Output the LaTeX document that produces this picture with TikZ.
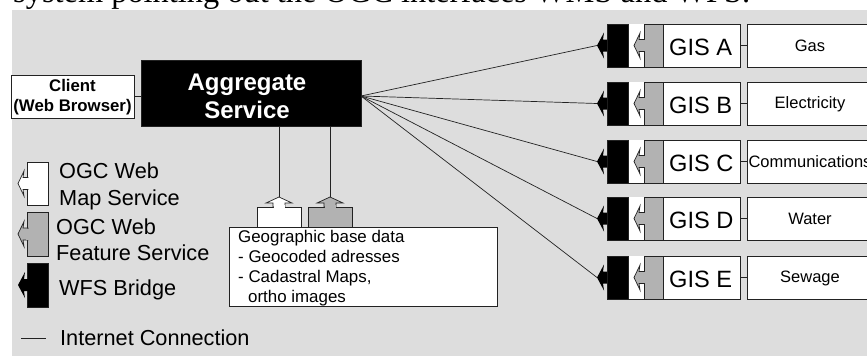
\documentclass[tikz,border=0pt]{standalone}
\usepackage{fontspec}
\setmainfont{Liberation Sans}
\newfontfamily\serifttl{Liberation Serif}
\definecolor{bggray}{HTML}{DDDDDD}
\definecolor{wfsgray}{HTML}{B2B2B2}
\definecolor{edge}{HTML}{222222}
\newcommand{\fs}[1]{\fontsize{#1}{#1}\selectfont}
\tikzset{
  x=1pt,y=-1pt,
  box/.style={draw=edge,line width=0.8pt,fill=white,inner sep=0,outer sep=0,anchor=north west},
  link/.style={draw=edge,line width=0.7pt},
  lbl/.style={inner sep=0,anchor=base west,text=black},
  service/.style={draw=edge,line width=0.7pt,fill=#1},
  servicearrow/.pic={
    \path[pic actions] (0,0) -- (6,-12.5) -- (5,-6) -- (10,-6) -- (10,6) -- (5,6) -- (6,12.5) -- cycle;
  },
  bridgearrow/.pic={
    \path[pic actions] (0,0) -- (7,-13) -- (6,-6) -- (10,-6) -- (10,6) -- (6,6) -- (7,13) -- cycle;
  },
  uparrow/.pic={
    \path[pic actions] (0,0) -- (13,6) -- (6,6) -- (6,10) -- (-6,10) -- (-6,6) -- (-13,6) -- cycle;
  }
}
\newcommand{\gisrow}[5]{%
  \node[box,minimum width=133pt,minimum height=43pt] (gis#4) at (607,#1) {};
  \fill[white] (628,#1) rectangle ++(16,43);
  \path[service=wfsgray] (644,#1) rectangle ++(19,43);
  \pic[service=wfsgray] at (634,#1+21.5) {servicearrow};
  \fill[wfsgray] (643,#1+16) rectangle (645,#1+27);
  \path[draw=edge,fill=black] (607,#1) rectangle ++(21,43);
  \pic[fill=black] (tip#4) at (597,#1+21.5) {bridgearrow};
  \coordinate (t#4) at (597,#1+21.5);
  \node[lbl,font=\fs{23.6}] at (669,#1+31) {#2};
  \node[box,minimum width=125pt,minimum height=43pt] (lab#4) at (747,#1) {};
  \node[inner sep=0,font=\fs{#5}] at (810,#1+22) {#3};
  \draw[link] (gis#4.east) -- (lab#4.west);
}
\begin{document}
\begin{tikzpicture}
\useasboundingbox (0,0) rectangle (867,356);
\fill[bggray] (12,10) rectangle (867,356);
\node[lbl,font=\serifttl\fs{32.4}] (title) at (13,2) {system pointing out the OGC interfaces WMS and WFS.};

\node[box,minimum width=123pt,minimum height=43pt] (client) at (11,75) {};
\node[inner sep=0,align=center,font=\bfseries\fs{16.8}] (clientt) at (72.5,97.5) {Client\\[3.2pt](Web Browser)};
\node[box,fill=black,minimum width=220pt,minimum height=66pt] (agg) at (141,60) {};
\node[inner sep=0,align=center,text=white,font=\bfseries\fs{24}] (aggt) at (247,96.5) {Aggregate\\[4pt]Service};
\draw[link] (client.east) -- (agg.west |- client.east);
\coordinate (hub) at (361,96);

\gisrow{24}{GIS A}{Gas}{A}{16.5}
\gisrow{82}{GIS B}{Electricity}{B}{16.5}
\gisrow{140}{GIS C}{Communications}{C}{16.5}
\gisrow{197}{GIS D}{Water}{D}{16.5}
\gisrow{256}{GIS E}{Sewage}{E}{16.5}
\foreach \i in {A,B,C,D,E} \draw[link] (hub) -- (t\i);

% base data
\coordinate (dw) at (279,197);
\coordinate (dg) at (330,197);
\draw[link] (dw |- agg.south) -- (dw);
\draw[link] (dg |- agg.south) -- (dg);
\path[service=white] (257,207) rectangle (301,228);
\pic[service=white] at (dw) {uparrow};
\fill[white] (273.5,205) rectangle (284.5,209);
\path[service=wfsgray] (308,207) rectangle (352,228);
\pic[service=wfsgray] at (dg) {uparrow};
\fill[wfsgray] (324.5,205) rectangle (335.5,209);
\node[box,minimum width=268pt,minimum height=79pt] (geo) at (229,227) {};
\node[lbl,font=\fs{16.9}] at (238,242) {Geographic base data};
\node[lbl,font=\fs{16.9}] at (238,262) {- Geocoded adresses};
\node[lbl,font=\fs{16.9}] at (238,282) {- Cadastral Maps,};
\node[lbl,font=\fs{16.9}] at (248,302) {ortho images};

% legend
\path[service=white] (27,162) rectangle (48,205);
\pic[service=white] at (18,183.5) {servicearrow};
\fill[white] (26,178) rectangle (28.5,189);
\path[service=wfsgray] (27,212) rectangle (48,256);
\pic[service=wfsgray] at (18,234) {servicearrow};
\fill[wfsgray] (26,228.5) rectangle (28.5,239.5);
\path[fill=black,draw=edge] (27,263) rectangle (48,307);
\pic[fill=black] at (18,285) {bridgearrow};
\coordinate (il) at (21,338);
\coordinate (ir) at (46,338);
\draw[link] (il) -- (ir);
\node[lbl,font=\fs{21.7}] at (59,178) {OGC Web};
\node[lbl,font=\fs{21.7}] at (59,205) {Map Service};
\node[lbl,font=\fs{21.7}] at (56,234) {OGC Web};
\node[lbl,font=\fs{21.7}] at (56,260) {Feature Service};
\node[lbl,font=\fs{21.7}] at (59,295) {WFS Bridge};
\node[lbl,font=\fs{21.7}] at (60,345) {Internet Connection};
\end{tikzpicture}
\end{document}
